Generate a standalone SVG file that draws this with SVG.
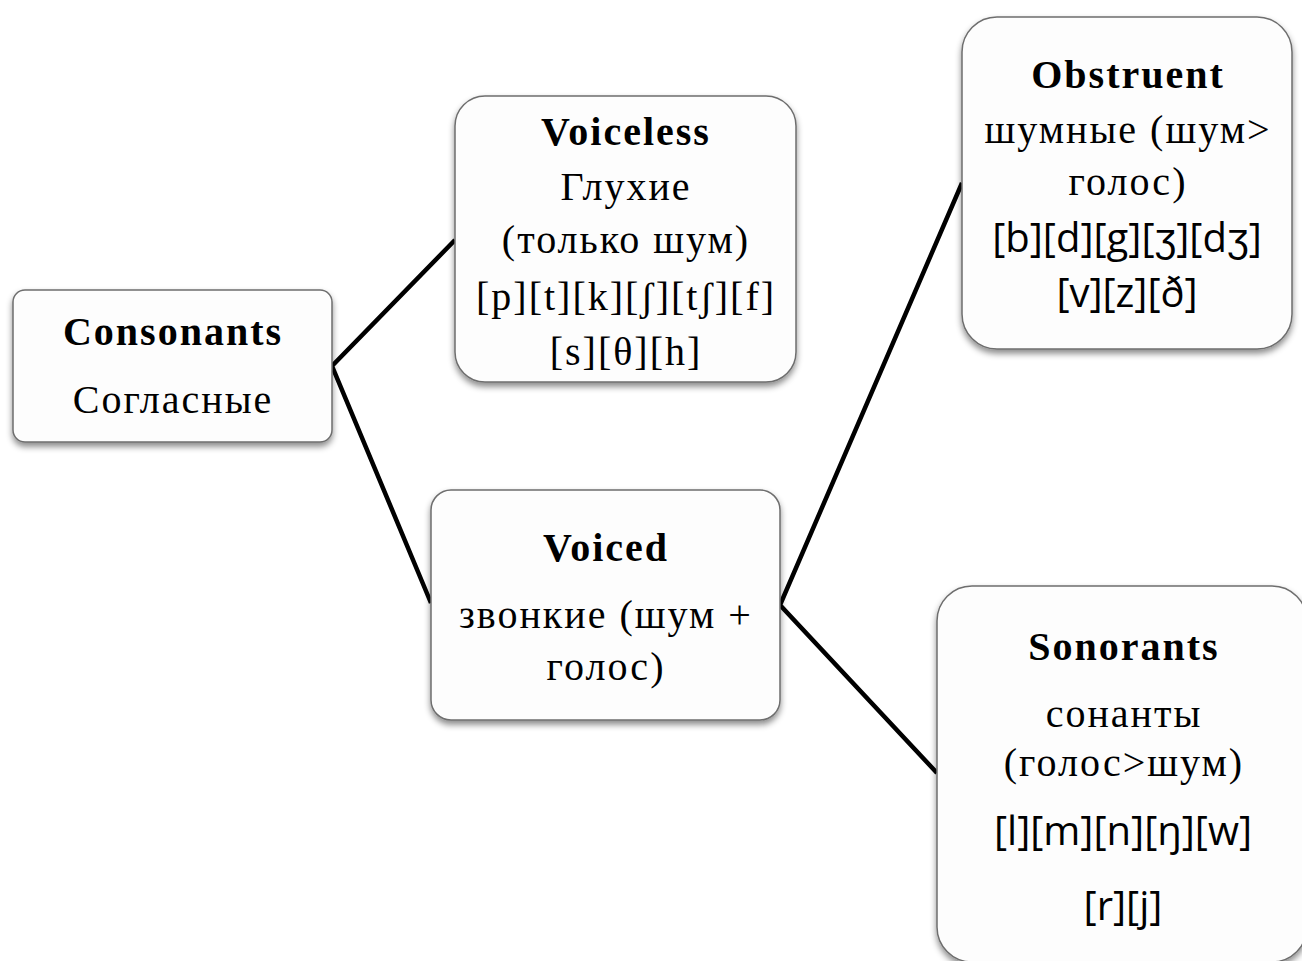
<svg xmlns="http://www.w3.org/2000/svg" width="1302" height="961" viewBox="0 0 1302 961">
<defs>
<filter id="sh" x="-10%" y="-10%" width="120%" height="125%">
<feDropShadow dx="0" dy="4" stdDeviation="3" flood-color="#000" flood-opacity="0.45"/>
</filter>
<style>
.box{fill:#fdfdfd;stroke:#6e6e6e;stroke-width:1.5;filter:url(#sh)}
.t{font-family:"Liberation Serif","Times New Roman",serif;font-size:40px;letter-spacing:2px;fill:#000;text-anchor:middle}
.b{font-weight:bold;letter-spacing:2px}
.s{font-family:"Open Sans","Liberation Sans",sans-serif;font-size:40px;fill:#000;text-anchor:middle}
.c{fill:none;stroke:#000;stroke-width:4.5;stroke-linejoin:miter}
</style>
</defs>
<rect width="1302" height="961" fill="#fff"/>
<g id="connectors">
<polyline class="c" points="455,240 332,366 431,603"/>
<polyline class="c" points="962,183 780,605 937,773"/>
</g>
<g id="consonants">
<rect class="box" x="13" y="290" width="319" height="152" rx="12"/>
<text class="t b" x="173" y="345">Consonants</text>
<text class="t" x="173" y="413">Согласные</text>
</g>
<g id="voiceless">
<rect class="box" x="455" y="96" width="341" height="286" rx="30"/>
<text class="t b" x="626" y="145">Voiceless</text>
<text class="t" x="626" y="200">Глухие</text>
<text class="t" x="626" y="253">(только шум)</text>
<text class="t" x="626" y="310">[p][t][k][ʃ][tʃ][f]</text>
<text class="t" x="626" y="365">[s][θ][h]</text>
</g>
<g id="obstruent">
<rect class="box" x="962" y="17" width="330" height="332" rx="35"/>
<text class="t b" x="1128" y="88">Obstruent</text>
<text class="t" x="1128" y="143">шумные (шум&gt;</text>
<text class="t" x="1128" y="195">голос)</text>
<text class="s" x="1127" y="252">[b][d][g][ʒ][dʒ]</text>
<text class="s" x="1127" y="307">[v][z][ð]</text>
</g>
<g id="voiced">
<rect class="box" x="431" y="490" width="349" height="230" rx="20"/>
<text class="t b" x="606" y="561">Voiced</text>
<text class="t" x="606" y="628">звонкие (шум +</text>
<text class="t" x="606" y="680">голос)</text>
</g>
<g id="sonorants">
<rect class="box" x="937" y="586" width="370" height="376" rx="35"/>
<text class="t b" x="1124" y="660">Sonorants</text>
<text class="t" x="1124" y="727">сонанты</text>
<text class="t" x="1124" y="776">(голос&gt;шум)</text>
<text class="s" x="1123" y="845">[l][m][n][ŋ][w]</text>
<text class="s" x="1123" y="920">[r][j]</text>
</g>
</svg>
